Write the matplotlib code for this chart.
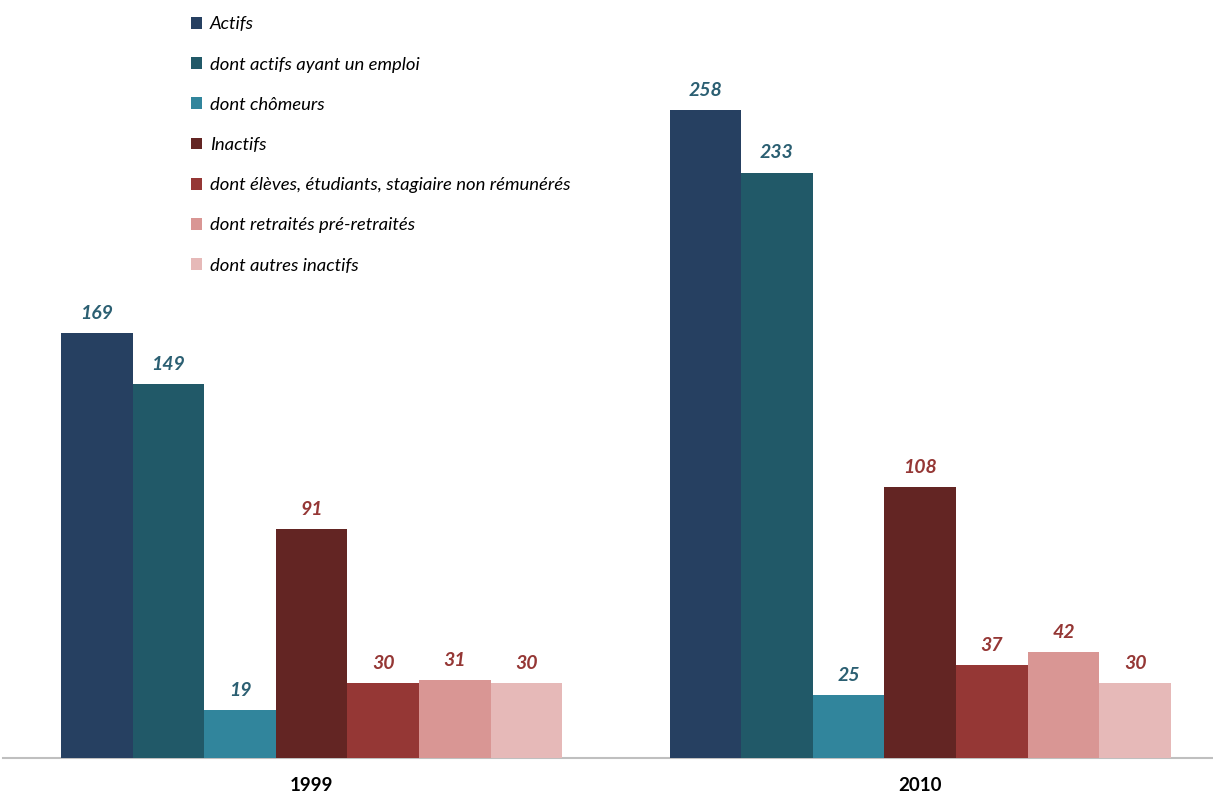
import matplotlib
matplotlib.use("Agg")
import matplotlib.pyplot as plt
import numpy as np
from matplotlib.patches import Patch

years = ["1999", "2010"]
series = ["Actifs", "dont actifs ayant un emploi", "dont chômeurs", "Inactifs",
          "dont élèves, étudiants, stagiaire non rémunérés",
          "dont retraités pré-retraités", "dont autres inactifs"]
values = {
    "Actifs": [169, 258],
    "dont actifs ayant un emploi": [149, 233],
    "dont chômeurs": [19, 25],
    "Inactifs": [91, 108],
    "dont élèves, étudiants, stagiaire non rémunérés": [30, 37],
    "dont retraités pré-retraités": [31, 42],
    "dont autres inactifs": [30, 30],
}
colors = ["#264061", "#215968", "#31859C", "#632523", "#953735", "#D99694", "#E6B9B8"]
label_colors = ["#2B5F72", "#2B5F72", "#2B5F72", "#953735", "#953735", "#953735", "#953735"]

plt.rcParams['font.family'] = ['Lato', 'DejaVu Sans']

fig = plt.figure(figsize=(12.13, 7.94), dpi=100)
ax = fig.add_axes([0.0, 36/794, 1.0, 758/794])

x = np.arange(len(years))
bw = 0.1177
n = len(series)
handles = []
for i, s in enumerate(series):
    pos = x + (i - (n - 1) / 2) * bw
    bars = ax.bar(pos, values[s], width=bw, color=colors[i], edgecolor='none', zorder=3)
    ax.bar_label(bars, labels=[str(v) for v in values[s]], padding=8,
                 fontsize=14, fontweight='bold', fontstyle='italic', color=label_colors[i])
    handles.append(Patch(facecolor=colors[i], edgecolor='none', label=s))

x0, x1 = -0.512, 1.481
ax.set_xlim(x0, x1)
ax.set_ylim(0, 301.7)
for sp in ['top', 'right', 'left']:
    ax.spines[sp].set_visible(False)
ax.spines['bottom'].set_color('#BFBFBF')
ax.spines['bottom'].set_linewidth(1.5)
ax.spines['bottom'].set_bounds(x0 + 3/607, x1)
ax.set_yticks([])
ax.set_xticks(x)
ax.set_xticklabels(years, fontsize=13.5, fontweight='bold')
ax.tick_params(axis='x', length=0, pad=14)

leg = ax.legend(handles=handles, loc='upper left', bbox_to_anchor=(184/1213, 1.0 - 9/758),
                frameon=False, prop={'family': 'Lato', 'style': 'italic', 'size': 13.3},
                handlelength=0.6, handleheight=0.6, handletextpad=0.4,
                labelspacing=1.31, borderaxespad=0)

fig.savefig("out.png", dpi=100)
